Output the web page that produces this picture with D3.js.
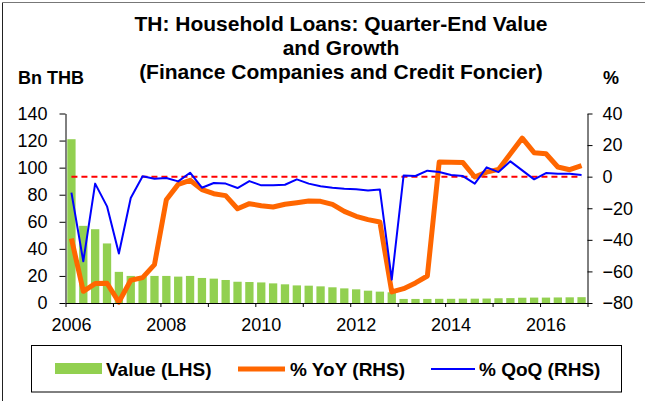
<!DOCTYPE html>
<html>
<head>
<meta charset="utf-8">
<script src="https://d3js.org/d3.v7.min.js"></script>
<style>
  body { margin: 0; background: #fff; }
  svg { display: block; font-family: "Liberation Sans", Arial, sans-serif; }
</style>
</head>
<body>
<svg id="chart" width="645" height="401"></svg>
<script>
// quarters 2006Q1 .. 2016Q4
const years = d3.range(2006, 2017);
const quarters = years.flatMap(y => [1, 2, 3, 4].map(q => y + 'Q' + q));

// Bn THB, quarter-end value (LHS)
const value = [121, 57, 54.5, 44, 23, 20, 19.5, 20, 20, 19.5, 20, 18.5,
  18, 17, 15.7, 15.5, 15.2, 14.5, 13.8, 13, 12.8, 12.3, 11.6, 10.8,
  10.1, 9.1, 8.4, 7.9, 3.0, 3.0, 3.0, 3.1, 3.1, 3.2, 3.2, 3.3,
  3.5, 3.6, 3.9, 4.0, 4.0, 4.1, 4.2, 4.3];

// % YoY (RHS)
const yoy = [-39.2, -72.6, -67.7, -67.5, -79.4, -65.6, -63.9, -55.7, -14.6, -4.9, -2.3, -8.2,
  -10.8, -12, -20.3, -17.1, -18.4, -19.2, -17.5, -16.5, -15.4, -15.6, -17.5, -22,
  -25.1, -27.2, -28.7, -73, -70.9, -67.3, -62.9, 9.3, 9.1, 8.9, -0.2, 2.9,
  4.6, 14.5, 24.4, 15.2, 14.5, 6.1, 4.4, 7];

// % QoQ (RHS)
const qoq = [-10.1, -53.6, -4.4, -18.8, -48.7, -13.5, 0.2, -1.3, -0.9, -3, 2.5, -7,
  -4, -4.4, -7.2, -2.8, -5.5, -5.5, -5.1, -1.7, -4.4, -6.1, -7, -7.6,
  -8, -8.7, -8.2, -65.2, 0.8, 0.4, 3.8, 2.9, 1, 0.4, -4.4, 5.9,
  2.9, 9.7, 4, -1.7, 2.3, 1.9, 1.9, 1];

const leftTicks = [0, 20, 40, 60, 80, 100, 120, 140];
const rightTicks = [-80, -60, -40, -20, 0, 20, 40];
const yearLabels = ['2006', '2008', '2010', '2012', '2014', '2016'];

const titleLines = ['TH: Household Loans: Quarter-End Value', 'and Growth',
  '(Finance Companies and Credit Foncier)'];

const plot = {left: 65.5, right: 587.5, top: 113.5, bottom: 303};

const svg = d3.select('#chart');

// outer frame (left + top edge)
svg.append('line').attr('x1', 2.5).attr('y1', 2.5).attr('x2', 2.5).attr('y2', 401)
  .attr('stroke', '#222').attr('stroke-width', 1);
svg.append('line').attr('x1', 2.5).attr('y1', 2.5).attr('x2', 645).attr('y2', 2.5)
  .attr('stroke', '#777').attr('stroke-width', 1);

const x = d3.scaleBand().domain(quarters).range([plot.left, plot.right])
  .paddingInner(0.3).paddingOuter(0.15);
const xi = d3.scaleLinear().domain([0, quarters.length]).range([plot.left, plot.right]);
const yL = d3.scaleLinear().domain([0, 140]).range([plot.bottom, plot.top]);
const yR = d3.scaleLinear().domain([-80, 40]).range([plot.bottom, plot.top]);
const cx = q => x(q) + x.bandwidth() / 2;

// bars
svg.append('g').selectAll('rect')
  .data(value)
  .join('rect')
  .attr('x', (d, i) => x(quarters[i]))
  .attr('width', x.bandwidth())
  .attr('y', d => yL(d))
  .attr('height', d => yL(0) - yL(d))
  .attr('fill', '#92d050');

// zero line
svg.append('line')
  .attr('x1', cx(quarters[0])).attr('x2', cx(quarters[quarters.length - 1]))
  .attr('y1', yR(0)).attr('y2', yR(0))
  .attr('stroke', '#ff0000').attr('stroke-width', 2)
  .attr('stroke-dasharray', '6,4');

const lineR = d3.line().x((d, i) => cx(quarters[i])).y(d => yR(d));

svg.append('path').datum(yoy)
  .attr('d', lineR)
  .attr('fill', 'none')
  .attr('stroke', '#ff6600')
  .attr('stroke-width', 5)
  .attr('stroke-linejoin', 'round');

svg.append('path').datum(qoq)
  .attr('d', lineR)
  .attr('fill', 'none')
  .attr('stroke', '#0000ff')
  .attr('stroke-width', 2)
  .attr('stroke-linejoin', 'round');

// axes
const axL = svg.append('g').attr('transform', `translate(${plot.left},0)`)
  .call(d3.axisLeft(yL).tickValues(leftTicks).tickSize(6).tickSizeOuter(0).tickPadding(12));
const axR = svg.append('g').attr('transform', `translate(${plot.right},0)`)
  .call(d3.axisRight(yR).tickValues(rightTicks).tickSize(5).tickSizeOuter(0).tickPadding(10)
    .tickFormat(d3.format('d')));
const axB = svg.append('g').attr('transform', `translate(0,${plot.bottom})`)
  .call(d3.axisBottom(xi).tickValues(d3.range(0, quarters.length + 1, 4))
    .tickSize(4).tickSizeOuter(0).tickFormat(''));
const axBL = svg.append('g').attr('transform', `translate(0,${plot.bottom})`)
  .call(d3.axisBottom(x).tickValues(yearLabels.map(y => y + 'Q1'))
    .tickSize(0).tickPadding(15).tickFormat(d => d.slice(0, 4)));
axBL.select('.domain').remove();

[axL, axR, axB, axBL].forEach(a => {
  a.selectAll('text').attr('font-size', 18).attr('fill', '#000')
    .attr('font-family', '"Liberation Sans", Arial, sans-serif');
  a.selectAll('line').attr('stroke', '#000');
  a.select('.domain').attr('stroke', '#000');
});

// title
svg.append('g').selectAll('text')
  .data(titleLines)
  .join('text')
  .attr('x', 341)
  .attr('y', (d, i) => 31 + i * 24)
  .attr('text-anchor', 'middle')
  .attr('font-size', 21)
  .attr('font-weight', 'bold')
  .text(d => d);

svg.append('text').attr('x', 18).attr('y', 84)
  .attr('font-size', 18).attr('font-weight', 'bold').text('Bn THB');
svg.append('text').attr('x', 603).attr('y', 84)
  .attr('font-size', 18).attr('font-weight', 'bold').text('%');

// legend
const lg = svg.append('g');
lg.append('rect').attr('x', 31.5).attr('y', 345.5).attr('width', 590).attr('height', 46.5)
  .attr('fill', '#fff').attr('stroke', '#000').attr('stroke-width', 1);
lg.append('rect').attr('x', 55).attr('y', 363).attr('width', 47).attr('height', 11)
  .attr('fill', '#92d050');
lg.append('line').attr('x1', 238).attr('x2', 285).attr('y1', 369).attr('y2', 369)
  .attr('stroke', '#ff6600').attr('stroke-width', 5);
lg.append('line').attr('x1', 431).attr('x2', 475).attr('y1', 369).attr('y2', 369)
  .attr('stroke', '#0000ff').attr('stroke-width', 2);
const legendText = [['Value (LHS)', 106], ['% YoY (RHS)', 290], ['% QoQ (RHS)', 479]];
lg.selectAll('text.lt')
  .data(legendText)
  .join('text')
  .attr('class', 'lt')
  .attr('x', d => d[1]).attr('y', 376)
  .attr('font-size', 19).attr('font-weight', 'bold')
  .text(d => d[0]);
</script>
</body>
</html>
